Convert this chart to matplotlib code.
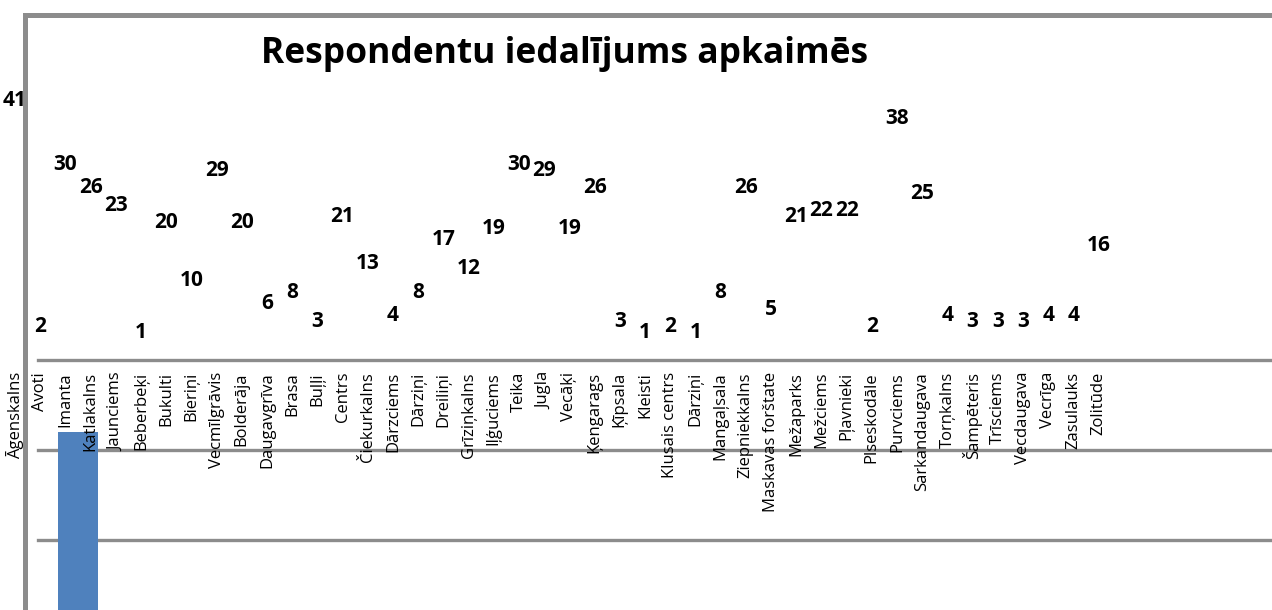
import matplotlib.pyplot as plt
import matplotlib.transforms as mtransforms

plt.rcParams['font.family'] = ['Open Sans', 'DejaVu Sans']

# Dati
apkaimes = ['Āgenskalns', 'Avoti', 'Imanta', 'Katlakalns', 'Jaunciems', 'Beberbeķi',
            'Bukulti', 'Bieriņi', 'Vecmīlgrāvis', 'Bolderāja', 'Daugavgrīva', 'Brasa',
            'Buļļi', 'Centrs', 'Čiekurkalns', 'Dārzciems', 'Dārziņi', 'Dreiliņi',
            'Grīziņkalns', 'Iļģuciems', 'Teika', 'Jugla', 'Vecāķi', 'Ķengarags',
            'Ķīpsala', 'Kleisti', 'Klusais centrs', 'Dārziņi', 'Mangaļsala',
            'Ziepniekkalns', 'Maskavas forštate', 'Mežaparks', 'Mežciems', 'Pļavnieki',
            'Plseskodāle', 'Purvciems', 'Sarkandaugava', 'Torņkalns', 'Šampēteris',
            'Trīsciems', 'Vecdaugava', 'Vecrīga', 'Zasulauks', 'Zolitūde']
respondenti = [41, 2, 30, 26, 23, 1, 20, 10, 29, 20, 6, 8, 3, 21, 13, 4, 8, 17, 12, 19,
               30, 29, 19, 26, 3, 1, 2, 1, 8, 26, 5, 21, 22, 22, 2, 38, 25, 4, 3, 3,
               3, 4, 4, 16]

# stabiņš un režģis, kas palikuši fonā
stabina_x = 2.5
stabina_vertiba = 22
rezga_limeni = [10, 20, 30]

pelecs = '#8c8c8c'
zils = '#4f81bd'

W, H = 1272, 610
fig = plt.figure(figsize=(W / 100, H / 100), dpi=100)
kreisi = 25 / W
ax = fig.add_axes([kreisi, 0, 1 - kreisi, 595 / H])
ax2 = ax.twinx()

ax.set_xlim(0.397, 49.88)
ax.set_ylim(-46.8, 55.78)
ax2.set_ylim(2.222, 68.33)

# fons: režģis + stabiņš
for y in rezga_limeni:
    ax2.axhline(y, xmin=13 / 1247, color=pelecs, lw=2.4, zorder=1)
ax2.bar(stabina_x, stabina_vertiba, width=1.6, color=zils, zorder=2)

ax.set_zorder(2)
ax2.set_zorder(1)
ax.patch.set_visible(False)

for a in (ax, ax2):
    a.set_xticks([])
    a.set_yticks([])
    for s in a.spines.values():
        s.set_visible(False)

for s in ('left', 'top'):
    ax.spines[s].set_visible(True)
    ax.spines[s].set_color(pelecs)
    ax.spines[s].set_linewidth(3.6)
    ax.spines[s].set_zorder(10)

# vērtības
for i, v in enumerate(respondenti):
    ax.text(i, v, str(v), ha='center', va='center', fontsize=15,
            fontweight='bold', color='black', zorder=3)

# apkaimju nosaukumi
trans = mtransforms.blended_transform_factory(ax.transData, ax.transAxes)
for i, nos in enumerate(apkaimes):
    ax.text(i, 0.400, nos, rotation=90, ha='center', va='top', fontsize=12,
            transform=trans, color='black', zorder=3)

fig.text(565 / W, 1 - 63 / H, 'Respondentu iedalījums apkaimēs', ha='center',
         va='baseline', fontsize=25.5, fontweight='bold')

fig.savefig('out.png', dpi=100)
